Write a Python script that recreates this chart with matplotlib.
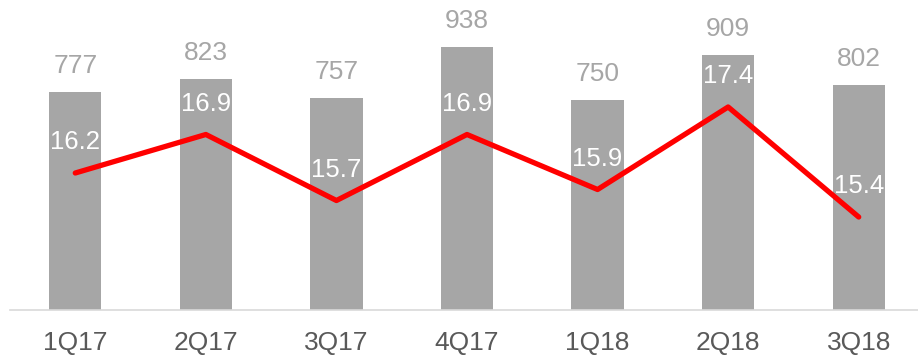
import matplotlib.pyplot as plt

quarters = ["1Q17", "2Q17", "3Q17", "4Q17", "1Q18", "2Q18", "3Q18"]
volumes = [777, 823, 757, 938, 750, 909, 802]
margins = [16.2, 16.9, 15.7, 16.9, 15.9, 17.4, 15.4]

plt.rcParams["font.family"] = ["Liberation Sans", "DejaVu Sans"]

fig = plt.figure(figsize=(9.18, 3.56), dpi=100)
ax = fig.add_axes([10 / 918, 46 / 356, 914 / 918, 280.6 / 356])
x = list(range(len(quarters)))

ax.bar(x, volumes, width=0.4, color="#A6A6A6", zorder=2)
ax.set_xlim(-0.5, len(quarters) - 0.5)
ax.set_ylim(0, 1000)
for xi, v in zip(x, volumes):
    ax.annotate(str(v), (xi, v), xytext=(0, 10), textcoords="offset points",
                ha="center", va="bottom", fontsize=19, color="#A6A6A6")

ax.set_yticks([])
ax.set_xticks(x)
ax.set_xticklabels(quarters, fontsize=19, color="#595959")
ax.tick_params(axis="x", length=0, pad=15)
for side in ["top", "right", "left"]:
    ax.spines[side].set_visible(False)
ax.spines["bottom"].set_color("#D9D9D9")
ax.spines["bottom"].set_linewidth(1.2)

ax2 = ax.twinx()
ax2.plot(x, margins, color="#FF0000", linewidth=3.8, solid_capstyle="round", zorder=3)
ax2.set_ylim(13.71, 18.81)
ax2.set_yticks([])
for side in ["top", "right", "left", "bottom"]:
    ax2.spines[side].set_visible(False)
for xi, m in zip(x, margins):
    ax2.annotate(f"{m:.1f}", (xi, m), xytext=(0, 22), textcoords="offset points",
                 ha="center", va="center", fontsize=18.5, color="white")

fig.savefig("out.png", dpi=100)
